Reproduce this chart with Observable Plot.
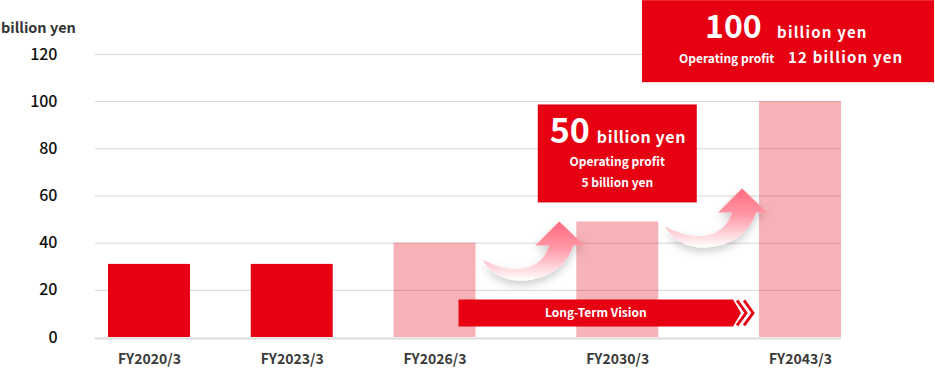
<!DOCTYPE html>
<html>
<head>
<meta charset="utf-8">
<script src="https://cdn.jsdelivr.net/npm/d3@7"></script>
<script src="https://cdn.jsdelivr.net/npm/@observablehq/plot@0.6"></script>
<style>
  html, body { margin: 0; padding: 0; background: #fff; }
  #chart svg { display: block; }
</style>
</head>
<body>
<div id="chart"></div>
<script>
// ---- data ----
const categories = ["FY2020/3", "FY2023/3", "FY2026/3", "FY2030/3", "FY2043/3"];
const sales = [31, 31, 40, 49, 100];               // billion yen
const isTarget = [false, false, true, true, true];  // plan / target bars (light)
const yTicks = [0, 20, 40, 60, 80, 100, 120];
const unitLabel = "billion yen";
const callouts = [
  {cat: "FY2030/3", big: "50", unit: "billion yen", op: "Operating profit", opValue: "5 billion yen"},
  {cat: "FY2043/3", big: "100", unit: "billion yen", op: "Operating profit", opValue: "12 billion yen"}
];
const visionLabel = "Long-Term Vision";
const arrowTips = [49, 63]; // y value where each growth arrow points

// ---- layout ----
const RED = "#e60012";
const wideGap = 1.28;  // later periods are spaced wider
const slots = categories.map((c, i) => i < 3 ? i : 2 + (i - 2) * wideGap);
const halfBar = 0.287;
const slotOf = new Map(categories.map((c, i) => [c, slots[i]]));
const rows = categories.map((c, i) => ({cat: c, slot: slots[i], value: sales[i], target: isTarget[i]}));

const chart = Plot.plot({
  width: 935,
  height: 369,
  marginLeft: 95,
  marginRight: 94,
  marginTop: 54,
  marginBottom: 32,
  style: {fontFamily: "'Noto Sans CJK JP', 'Noto Sans', sans-serif", background: "#fff"},
  x: {type: "linear", domain: [slots[0] - 0.378, slots[4] + halfBar]},
  y: {domain: [0, 120]},
  marks: [
    Plot.ruleY(yTicks.filter(d => d > 0), {stroke: "#d6d6d6", strokeWidth: 1}),
    Plot.rectY(rows, {
      x1: d => d.slot - halfBar, x2: d => d.slot + halfBar, y: "value",
      fill: RED, fillOpacity: d => d.target ? 0.3 : 1
    }),
    Plot.ruleY([0], {stroke: "#dcdcdc", strokeWidth: 2, dy: 1}),
    Plot.axisY({ticks: yTicks, tickSize: 0, tickPadding: 38, fontSize: 16, fontWeight: 500, label: null, fill: "#111"}),
    Plot.axisX({ticks: slots, tickFormat: d => categories[slots.indexOf(d)], tickSize: 0, tickPadding: 17,
      fontSize: 14, fontWeight: 700, label: null, fill: "#3a3a3a"})
  ]
});
document.getElementById("chart").appendChild(chart);

// ---- annotations anchored through the plot's scales ----
const xs = chart.scale("x"), ys = chart.scale("y");
const sx = d3.scaleLinear(xs.domain, xs.range);
const sy = d3.scaleLinear(ys.domain, ys.range);
const svg = d3.select(chart);
const font = "'Noto Sans CJK JP', 'Noto Sans', sans-serif";

// unit label
svg.append("text").attr("x", 1).attr("y", 33).attr("text-anchor", "start").attr("font-size", 14.5).attr("font-weight", 700)
  .attr("fill", "#333").attr("font-family", font).text(unitLabel);

const defs = svg.append("defs");
const grad = defs.append("linearGradient").attr("id", "arrowGrad").attr("x1", 0).attr("y1", 0).attr("x2", 0).attr("y2", 1);
grad.append("stop").attr("offset", "0%").attr("stop-color", "#ff6a7e");
grad.append("stop").attr("offset", "45%").attr("stop-color", "#ff98a6");
grad.append("stop").attr("offset", "100%").attr("stop-color", "#ffffff");
const filt = defs.append("filter").attr("id", "shadow").attr("x", "-50%").attr("y", "-50%").attr("width", "200%").attr("height", "200%");
filt.append("feDropShadow").attr("dx", 0).attr("dy", 4).attr("stdDeviation", 4)
  .attr("flood-color", "#000").attr("flood-opacity", 0.2);

// growth arrows: tip just left of the FY2030/3 and FY2043/3 bars
[3, 4].forEach((bi, k) => {
  const tx = sx(slots[bi] - halfBar) - 17;
  const ty = sy(arrowTips[k]);
  const p = "M0,0 L25,24 L14,24 C6,50 -20,60 -42,59 C-58,58 -70,50 -77,38 " +
            "C-62,46 -48,49 -36,47 C-22,45 -14,36 -10,24 L-24,24 Z";
  svg.append("path").attr("d", p).attr("transform", `translate(${tx},${ty})`)
    .attr("fill", "url(#arrowGrad)").attr("filter", "url(#shadow)");
});

// Long-term vision arrow bar
{
  const x0 = sx(slotOf.get("FY2026/3")) + 24;
  const x1 = sx(slotOf.get("FY2043/3") - halfBar) - 26;
  const yc = sy(10) - 0.5, h = 27;
  const top = yc - h / 2, bot = yc + h / 2;
  svg.append("path").attr("d", `M${x0},${top} H${x1} L${x1 + 8},${yc} L${x1},${bot} H${x0} Z`).attr("fill", RED);
  [0, 7].forEach(o => {
    svg.append("path").attr("d", `M${x1 + 4 + o},${top + 1} L${x1 + 13 + o},${yc} L${x1 + 4 + o},${bot - 1}`)
      .attr("fill", "none").attr("stroke", RED).attr("stroke-width", 2.8);
  });
  svg.append("text").attr("x", (x0 + x1) / 2).attr("y", yc + 4.5).attr("text-anchor", "middle")
    .attr("font-size", 12).attr("font-weight", 700).attr("fill", "#fff").attr("font-family", font).text(visionLabel);
}

// callout 1 (FY2030/3)
{
  const c = callouts[0];
  const cx = sx(slotOf.get(c.cat));
  const w = 159, h = 98;
  const top = sy(sales[3]) - 19 - h, left = cx - w / 2;
  const g = svg.append("g").attr("font-family", font).attr("fill", "#fff").attr("font-weight", 700).attr("text-anchor", "start");
  g.append("rect").attr("x", left).attr("y", top).attr("width", w).attr("height", h).attr("fill", RED);
  g.append("text").attr("x", left + 12).attr("y", top + 39).attr("font-size", 34).text(c.big);
  g.append("text").attr("x", left + 59).attr("y", top + 39).attr("font-size", 16).attr("letter-spacing", 0.6).text(c.unit);
  g.append("text").attr("x", cx).attr("y", top + 62).attr("font-size", 12).attr("text-anchor", "middle").text(c.op);
  g.append("text").attr("x", cx).attr("y", top + 83).attr("font-size", 12).attr("text-anchor", "middle").text(c.opValue);
}

// callout 2 (FY2043/3)
{
  const c = callouts[1];
  const cx = sx(slotOf.get(c.cat));
  const w = 292, h = 82;
  const top = sy(sales[4]) - 101, left = cx - 158;
  const g = svg.append("g").attr("font-family", font).attr("fill", "#fff").attr("font-weight", 700).attr("text-anchor", "start");
  g.append("rect").attr("x", left).attr("y", top).attr("width", w).attr("height", h).attr("fill", RED);
  g.append("text").attr("x", left + 63).attr("y", top + 38).attr("font-size", 32).text(c.big);
  g.append("text").attr("x", left + 135).attr("y", top + 38).attr("font-size", 15).attr("letter-spacing", 1.2).text(c.unit);
  g.append("text").attr("x", left + 37).attr("y", top + 63).attr("font-size", 12).text(c.op);
  g.append("text").attr("x", left + 146).attr("y", top + 63).attr("font-size", 15).attr("letter-spacing", 1.2).text(c.opValue);
}
</script>
</body>
</html>
